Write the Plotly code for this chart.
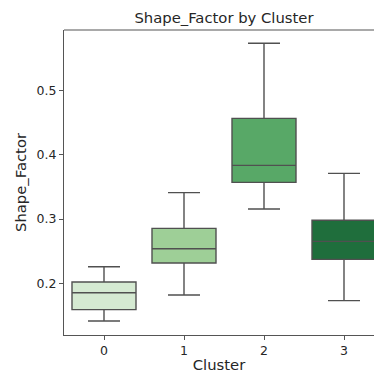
import plotly.graph_objects as go

clusters = [0, 1, 2, 3]
lower_whisker = [0.1414, 0.1818, 0.3156, 0.1730]
q1_vals = [0.1590, 0.2316, 0.3570, 0.2373]
medians = [0.1854, 0.2538, 0.3835, 0.2653]
q3_vals = [0.2020, 0.2855, 0.4566, 0.2980]
upper_whisker = [0.2258, 0.3410, 0.5733, 0.3710]
colors = ["#d5ead2", "#9ecf97", "#58a867", "#1f6e3c"]

fig = go.Figure()
for c, lo, q1, med, q3, hi, col in zip(clusters, lower_whisker, q1_vals, medians, q3_vals, upper_whisker, colors):
    fig.add_trace(go.Box(
        x=[c], q1=[q1], median=[med], q3=[q3], lowerfence=[lo], upperfence=[hi],
        width=0.8, whiskerwidth=0.5, fillcolor=col,
        line=dict(color="#505050", width=1.4), showlegend=False, boxpoints=False,
        hoverinfo="skip",
    ))

font = "DejaVu Sans, sans-serif"
fig.update_layout(
    width=374, height=374, autosize=False,
    margin=dict(l=64, r=0, t=30, b=39),
    paper_bgcolor="white", plot_bgcolor="white",
    boxmode="overlay",
    font=dict(family=font, color="#262626"),
    title=dict(text="Shape_Factor by Cluster", x=224/374, xanchor="center",
               y=1 - 18/374, yanchor="middle", font=dict(size=14.8, family=font, color="#262626")),
    xaxis=dict(range=[-0.5, 3.375], tickvals=clusters, ticktext=[str(c) for c in clusters],
               showline=True, linecolor="#555555", linewidth=1.2, showgrid=False, zeroline=False,
               ticks="outside", ticklen=4, tickcolor="#555555", tickfont=dict(size=12.5, color="#262626"),
               title=dict(text="Cluster", font=dict(size=14.8, color="#262626"), standoff=2)),
    yaxis=dict(range=[0.1196, 0.594], tickvals=[0.2, 0.3, 0.4, 0.5],
               ticktext=["0.2", "0.3", "0.4", "0.5"],
               showline=True, linecolor="#555555", linewidth=1.2, showgrid=False, zeroline=False,
               ticks="outside", ticklen=4, tickcolor="#555555", tickfont=dict(size=12.5, color="#262626"),
               title=dict(text="Shape_Factor", font=dict(size=14.8, color="#262626"), standoff=6)),
    shapes=[dict(type="line", xref="paper", yref="paper", x0=0, x1=1, y0=1, y1=1,
                 line=dict(color="#555555", width=1.2))],
)
fig.write_html("out.html", config={"displayModeBar": False},
               post_script="document.body.style.margin='0';document.body.style.overflow='hidden';")
